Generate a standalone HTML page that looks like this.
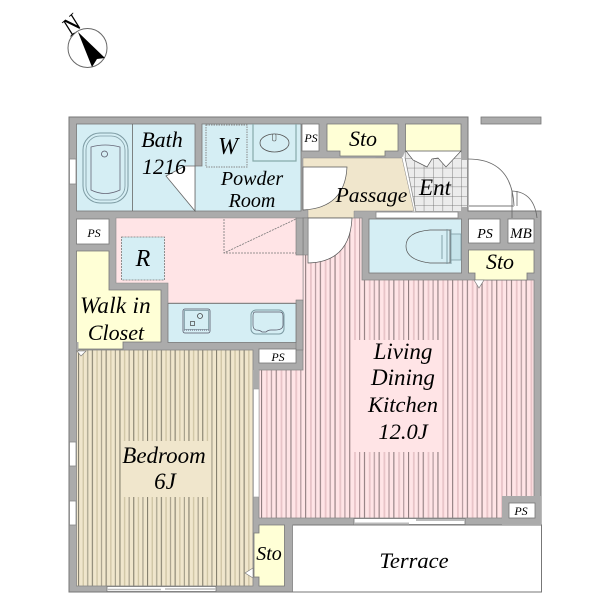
<!DOCTYPE html>
<html><head><meta charset="utf-8"><style>
html,body{margin:0;padding:0;background:#fff}
svg{display:block}
text{font-family:"Liberation Serif",serif;font-style:italic;fill:#000;text-anchor:middle}
</style></head><body>
<svg width="600" height="600" viewBox="0 0 600 600" xmlns="http://www.w3.org/2000/svg">
<defs>
<pattern id="bs" width="13.8" height="10" patternUnits="userSpaceOnUse" x="78">
<rect width="13.8" height="10" fill="#f0e6cc"/>
<rect x="0" width="1.1" height="10" fill="#85806e"/>
<rect x="4.6" width="1.3" height="10" fill="#cfc4a4"/>
<rect x="9.2" width="1.1" height="10" fill="#a09a86"/>
</pattern>
<pattern id="ps" width="14.7" height="10" patternUnits="userSpaceOnUse" x="261">
<rect width="14.7" height="10" fill="#ffe4e6"/>
<rect x="0" width="1.1" height="10" fill="#8f7c7e"/>
<rect x="4.9" width="1.8" height="10" fill="#e8c4c8"/>
<rect x="9.8" width="1.2" height="10" fill="#b39a9e"/>
</pattern>
<pattern id="tile" width="9.4" height="9.4" patternUnits="userSpaceOnUse" x="405" y="149">
<rect width="9.4" height="9.4" fill="#ececec"/>
<path d="M0 0H9.4M0 0V9.4" stroke="#666" stroke-width=".8" fill="none"/>
</pattern>
</defs>

<!-- compass -->
<circle cx="87.500" cy="48" r="19.500" fill="#fff" stroke="#666" stroke-width="1"/>
<polygon points="78,32 105,58 97,59 92,67" fill="#000"/>
<text x="0" y="0" font-size="25" transform="translate(77,31) rotate(-42)">N</text>

<!-- outer wall mass -->
<path d="M69 117H468V211H541V525H293V592H69Z" fill="#ababab" stroke="#777" stroke-width="1"/>
<rect x="481" y="117" width="60" height="7" fill="#ababab" stroke="#777" stroke-width=".8"/>

<!-- terrace -->
<path d="M293 525H541.500V592H293" fill="#fff" stroke="#777" stroke-width="1"/>

<!-- bath + powder -->
<rect x="76.500" y="124" width="118.500" height="87" fill="#d5eef4" stroke="#777" stroke-width=".8"/>
<path d="M202 124H301V211H195V166H202Z" fill="#d5eef4" stroke="#777" stroke-width=".8"/>
<path d="M132.500 124V211" stroke="#666" stroke-width=".8"/>
<polygon points="166,176 185,166 195,166 195,211" fill="#fff" stroke="#666" stroke-width=".8"/>
<rect x="83" y="133" width="45" height="70" rx="17" fill="none" stroke="#7c9aa2" stroke-width="1"/>
<rect x="86" y="136" width="39" height="64" rx="14" fill="none" stroke="#7c9aa2" stroke-width=".8"/>
<path d="M91 147Q105 143 120 147V190Q105 197 91 190Z" fill="none" stroke="#667" stroke-width=".8"/>
<circle cx="104.500" cy="154" r="3" fill="none" stroke="#556" stroke-width=".8"/>
<rect x="206" y="125" width="41" height="42" fill="#d5eef4" stroke="#888" stroke-width="1" stroke-dasharray="1.500 1"/>
<path d="M253 124V161H296V124" fill="none" stroke="#8aa" stroke-width="1.200"/>
<ellipse cx="274.500" cy="143" rx="14.500" ry="9" fill="none" stroke="#555" stroke-width=".8"/>
<rect x="272.500" y="134" width="3.500" height="7" rx="1.500" fill="#d5eef4" stroke="#555" stroke-width=".6"/>

<!-- windows left and bath -->
<rect x="69.500" y="159" width="6.500" height="25" fill="#fff" stroke="#888" stroke-width=".8"/>
<rect x="69.500" y="442" width="6.500" height="24" fill="#fff" stroke="#888" stroke-width=".8"/>
<rect x="69.500" y="501" width="6.500" height="24" fill="#fff" stroke="#888" stroke-width=".8"/>

<!-- PS top -->
<rect x="302" y="124" width="17" height="27" fill="#fff" stroke="#777" stroke-width=".8"/>
<!-- sto top -->
<path d="M327 124H398V151H385V156H340V151H327Z" fill="#ffffd6" stroke="#777" stroke-width=".8"/>
<polygon points="376,158 386,158 381,165" fill="#fff" stroke="#777" stroke-width=".6"/>
<rect x="405.500" y="124" width="55.500" height="28" fill="#ffffd6" stroke="#777" stroke-width=".8"/>

<!-- entrance -->
<polygon points="405,152 461,152 461,160 467,160 467,207 461,207 461,211 413,211 402,158" fill="url(#tile)"/>
<polygon points="406,151 461,151 446,167 438,158 432,159 427,167 413,160" fill="#fff" stroke="#555" stroke-width=".7"/>
<path d="M403 157L414 212" stroke="#fff" stroke-width="3"/>
<path d="M401 157L412 212M405 157L416 212" stroke="#888" stroke-width=".7"/>

<!-- porch door -->
<path d="M468 159Q512 159 514 206" fill="none" stroke="#666" stroke-width=".8"/>
<path d="M468 206H514" stroke="#bbb" stroke-width="2"/>
<path d="M512 191Q534 192 537 218M512 191V218M517 191V206" fill="none" stroke="#666" stroke-width=".8"/>

<!-- passage -->
<path d="M303 158H402L414 211H354V218H308V210H303Z" fill="#f0e6cc" stroke="#888" stroke-width=".5"/>
<path d="M303 167H347Q345 208 303 210Z" fill="#fff" stroke="#555" stroke-width=".7"/>

<!-- LDK -->
<path d="M303 218H362V280H534V518H259V370H303Z" fill="url(#ps)" stroke="#888" stroke-width=".8"/>
<rect x="354" y="340" width="87" height="112" fill="#ffe4e6"/>
<rect x="502" y="496" width="39" height="29" fill="#ababab"/>
<rect x="509" y="503" width="26" height="15" fill="#fff" stroke="#777" stroke-width=".8"/>
<path d="M308 218H352Q350 262 308 263Z" fill="#fff" stroke="#555" stroke-width=".7"/>
<rect x="303" y="218" width="5" height="37" fill="#ababab" stroke="#777" stroke-width=".5"/>

<!-- window above toilet -->
<rect x="376" y="212" width="82" height="6" fill="#fff" stroke="#888" stroke-width=".8"/>
<!-- toilet -->
<rect x="369" y="219" width="92.500" height="54" fill="#d5eef4" stroke="#777" stroke-width=".8"/>
<path d="M450 230H430Q406 232 406 246Q406 260 430 263H450Z" fill="none" stroke="#555" stroke-width=".7"/>
<path d="M442 235V259M447 229V264M451 229V264" stroke="#7c9aa2" stroke-width=".9" fill="none"/>
<rect x="451" y="234" width="10" height="26" fill="#c5e3ea" stroke="#7c9aa2" stroke-width=".8"/>

<rect x="468.500" y="219" width="31.500" height="24" fill="#fff" stroke="#777" stroke-width=".8"/>
<rect x="508" y="219" width="26" height="24" fill="#fff" stroke="#777" stroke-width=".8"/>
<path d="M468.500 250H534V273H527V280H475V273H468.500Z" fill="#ffffd6" stroke="#777" stroke-width=".8"/>
<polygon points="474,280 484,280 479,288" fill="#fff" stroke="#777" stroke-width=".6"/>

<!-- hall -->
<path d="M116 218H296V219H303V303H168V283H116Z" fill="#ffe4e6" stroke="#888" stroke-width=".6"/>
<rect x="296" y="218" width="7" height="37" fill="#ababab" stroke="#777" stroke-width=".6"/>
<rect x="296" y="300" width="7" height="50" fill="#ababab" stroke="#777" stroke-width=".6"/>
<rect x="121.500" y="237" width="43" height="43" fill="#d5eef4" stroke="#777" stroke-width=".8" stroke-dasharray="2 1"/>
<path d="M224 219V253H296L224 253L296 219" fill="none" stroke="#777" stroke-width=".8" stroke-dasharray="2 1"/>
<!-- kitchen -->
<rect x="168" y="303.500" width="128" height="39" fill="#d5eef4" stroke="#777" stroke-width=".8"/>
<rect x="183" y="309" width="27" height="24" rx="2" fill="none" stroke="#556" stroke-width=".8"/>
<rect x="184.500" y="310.500" width="24" height="19" fill="none" stroke="#7c9aa2" stroke-width=".8"/>
<circle cx="200" cy="316" r="2.500" fill="none" stroke="#444" stroke-width=".8"/>
<rect x="190.500" y="321.500" width="4" height="4" fill="none" stroke="#444" stroke-width=".7"/>
<path d="M184 330H209" stroke="#889" stroke-width="1.500" stroke-dasharray="1 1"/>
<rect x="251" y="310" width="33" height="24" rx="5" fill="none" stroke="#7c9aa2" stroke-width="1"/>
<path d="M255 312H280Q283 312 283 316V325Q283 330 275 330H271Q268 330 266 332H262Q260 330 256 330Q253 329 253 325V316Q253 312 255 312Z" fill="none" stroke="#556" stroke-width=".7"/>

<rect x="76.500" y="219" width="32.500" height="25" fill="#fff" stroke="#777" stroke-width=".8"/>
<path d="M76.500 251H109V290H161V342H123V349H76.500Z" fill="#ffffd6" stroke="#777" stroke-width=".8"/>
<rect x="259" y="349" width="37" height="14" fill="#fff" stroke="#777" stroke-width=".8"/>

<!-- bedroom -->
<rect x="76.500" y="350" width="176.500" height="236" fill="url(#bs)" stroke="#888" stroke-width=".8"/>
<rect x="122" y="441" width="89" height="56" fill="#f0e6cc"/>
<polygon points="77,351 86,351 81,356" fill="#fff" stroke="#777" stroke-width=".6"/>
<rect x="76.500" y="342" width="2" height="8" fill="#ababab"/>

<!-- sto lower -->
<path d="M259 525H284.500V586H259V577H254V533H259Z" fill="#ffffd6" stroke="#777" stroke-width=".8"/>
<polygon points="253,568 253,578 245,573" fill="#fff" stroke="#777" stroke-width=".6"/>

<!-- inner wall between bed and ldk -->
<rect x="253" y="370" width="6" height="127" fill="#ababab"/>
<rect x="253.500" y="389" width="5.500" height="108" fill="#fff" stroke="#999" stroke-width=".6"/>

<!-- bottom windows -->
<rect x="107" y="586.500" width="109" height="5" fill="#fff" stroke="#777" stroke-width=".8"/>
<path d="M161 589.500H107M216 589H165" stroke="#bbb" stroke-width="1.500"/>
<rect x="354" y="518.500" width="111" height="6" fill="#fff" stroke="#777" stroke-width=".8"/>
<path d="M354 523.500H409M416 520H465" stroke="#bbb" stroke-width="2"/>

<!-- labels -->
<text x="162" y="147" font-size="22">Bath</text>
<text x="164" y="174" font-size="22">1216</text>
<text x="228" y="154" font-size="24">W</text>
<text x="252" y="185" font-size="20">Powder</text>
<text x="252" y="207" font-size="20">Room</text>
<text x="311" y="142" font-size="12">PS</text>
<text x="363" y="146" font-size="22">Sto</text>
<text x="371.500" y="202" font-size="21.500">Passage</text>
<text x="435" y="195" font-size="23">Ent</text>
<text x="94" y="237" font-size="12">PS</text>
<text x="143" y="266" font-size="24">R</text>
<text x="115.500" y="313" font-size="23" letter-spacing=".3">Walk in</text>
<text x="116" y="340" font-size="22">Closet</text>
<text x="485" y="238" font-size="14">PS</text>
<text x="521" y="238" font-size="15">MB</text>
<text x="500" y="269" font-size="22">Sto</text>
<text x="278" y="361" font-size="12">PS</text>
<text x="403" y="359" font-size="23">Living</text>
<text x="403" y="385" font-size="23">Dining</text>
<text x="403" y="412" font-size="22.500">Kitchen</text>
<text x="403" y="439" font-size="22.500">12.0J</text>
<text x="164" y="463" font-size="23">Bedroom</text>
<text x="165" y="489" font-size="23">6J</text>
<text x="269" y="560" font-size="20">Sto</text>
<text x="521" y="515" font-size="12">PS</text>
<text x="414" y="568" font-size="22.500">Terrace</text>
</svg>
</body></html>
